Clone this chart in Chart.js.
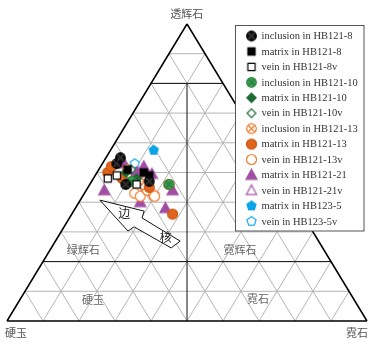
<!DOCTYPE html>
<html>
<head>
<meta charset="utf-8">
<script src="https://cdn.jsdelivr.net/npm/chart.js@4.4.1/dist/chart.umd.min.js"></script>
<style>
  body { margin: 0; background: #fff; }
  canvas { display: block; }
</style>
</head>
<body>
<canvas id="ternary" width="392" height="347"></canvas>
<script>
// compositions as [Quad, Jd, Ae] in %
const seriesLabels = [
  "inclusion in HB121-8", "matrix in HB121-8", "vein in HB121-8v",
  "inclusion in HB121-10", "matrix in HB121-10", "vein in HB121-10v",
  "inclusion in HB121-13", "matrix in HB121-13", "vein in HB121-13v",
  "matrix in HB121-21", "vein in HB121-21v", "matrix in HB123-5", "vein in HB123-5v"
];
const inclusion8 = [[53, 43, 4], [55, 41, 4], [47, 37, 16], [46, 44, 10]];
const matrix8 = [[50, 37, 13], [49, 36, 15], [51, 41, 8]];
const vein8 = [[48, 48, 4], [49, 45, 6], [46, 41, 13]];
const inclusion10 = [[46, 32, 22], [47, 42, 11]];
const matrix10 = [[50, 42, 8], [48, 40, 12]];
const vein10 = [[51, 40, 9]];
const inclusion13 = [[51, 41, 8], [47, 40, 13]];
const matrix13 = [[50, 47, 3], [52, 45, 3], [48, 44, 8], [46, 32, 22], [36, 36, 28], [45, 38, 17]];
const vein13 = [[43, 43, 14], [42, 42, 16], [44, 39, 17], [42.5, 38, 19.5], [42, 38, 20], [46, 39, 15]];
const matrix21 = [[44, 51, 5], [53, 41, 6], [52, 36, 12], [49.5, 35, 15.5], [44, 32, 24], [40, 43, 17], [38, 37, 25], [50, 39, 11]];
const vein21 = [[50, 38.5, 11.5], [48, 41, 11], [45, 39, 16]];
const matrix1235 = [[57.5, 30.5, 12]];
const vein1235 = [[53, 38, 9], [46, 44, 10]];

const cornerLabels = ["透辉石", "硬玉", "霓石"];
const fieldLabels = ["绿辉石", "霓辉石", "硬玉", "霓石"];

// ternary -> cartesian (base 0..1, apex at y=1)
function toXY(q, jd, ae) {
  const s = q + jd + ae;
  return { x: ae / s + q / s / 2, y: q / s };
}

function marker(shape, fill, stroke, r, cross) {
  const s = Math.ceil(r * 2 + 3);
  const c = document.createElement('canvas');
  c.width = s; c.height = s;
  const g = c.getContext('2d');
  const m = s / 2;
  g.lineWidth = 1.2;
  g.fillStyle = fill || '#fff';
  g.strokeStyle = stroke;
  g.beginPath();
  if (shape === 'circle') {
    g.arc(m, m, r, 0, Math.PI * 2);
  } else if (shape === 'square') {
    g.rect(m - r * 0.82, m - r * 0.82, r * 1.64, r * 1.64);
  } else if (shape === 'diamond') {
    g.moveTo(m, m - r); g.lineTo(m + r, m); g.lineTo(m, m + r); g.lineTo(m - r, m); g.closePath();
  } else if (shape === 'triangle') {
    g.moveTo(m, m - r); g.lineTo(m + r * 0.95, m + r * 0.75); g.lineTo(m - r * 0.95, m + r * 0.75); g.closePath();
  } else if (shape === 'pentagon') {
    for (let i = 0; i < 5; i++) {
      const a = -Math.PI / 2 + i * 2 * Math.PI / 5;
      const px = m + r * Math.cos(a), py = m + r * Math.sin(a);
      if (i === 0) g.moveTo(px, py); else g.lineTo(px, py);
    }
    g.closePath();
  }
  g.fill();
  g.stroke();
  if (cross) {
    g.strokeStyle = cross;
    g.beginPath();
    const d = r * 0.68;
    g.moveTo(m - d, m - d); g.lineTo(m + d, m + d);
    g.moveTo(m + d, m - d); g.lineTo(m - d, m + d);
    g.stroke();
  }
  return c;
}

const markers = [
  marker('circle', '#111', '#000', 4.8, '#3a3a3a'),
  marker('square', '#000', '#000', 4.4),
  marker('square', '#fff', '#000', 4.4),
  marker('circle', '#3a9c50', '#2f8a44', 4.8, '#26803c'),
  marker('diamond', '#1f6b35', '#1f6b35', 4.7),
  marker('diamond', '#fff', '#1f6b35', 4.4),
  marker('circle', '#fff', '#f07c28', 4.8, '#f07c28'),
  marker('circle', '#e0651e', '#cc5816', 5.0),
  marker('circle', '#fff', '#f07c28', 5.0),
  marker('triangle', '#a24da4', '#a24da4', 5.8),
  marker('triangle', '#fff', '#aa55ac', 5.4),
  marker('pentagon', '#0aa5e6', '#0aa5e6', 4.8),
  marker('pentagon', '#fff', '#1aaaee', 4.8)
];
const seriesData = [inclusion8, matrix8, vein8, inclusion10, matrix10, vein10,
  inclusion13, matrix13, vein13, matrix21, vein21, matrix1235, vein1235];

const px = (chart, x, y) => ({ x: chart.scales.x.getPixelForValue(x), y: chart.scales.y.getPixelForValue(y) });

function segment(ctx, chart, a, b) {
  const p1 = toXY(...a), p2 = toXY(...b);
  const s = px(chart, p1.x, p1.y), e = px(chart, p2.x, p2.y);
  ctx.moveTo(s.x, s.y);
  ctx.lineTo(e.x, e.y);
}

const ternaryPlugin = {
  id: 'ternaryPlugin',
  beforeDatasetsDraw(chart) {
    const ctx = chart.ctx;
    ctx.save();
    // grey 10% grid
    ctx.strokeStyle = '#b4b4b4';
    ctx.lineWidth = 1;
    ctx.beginPath();
    for (let i = 1; i < 10; i++) {
      const t = i / 10;
      segment(ctx, chart, [t, 1 - t, 0], [t, 0, 1 - t]);
      segment(ctx, chart, [1 - t, t, 0], [0, t, 1 - t]);
      segment(ctx, chart, [1 - t, 0, t], [0, 1 - t, t]);
    }
    ctx.stroke();
    // classification lines
    ctx.strokeStyle = '#111';
    ctx.beginPath();
    segment(ctx, chart, [0.8, 0.2, 0], [0.8, 0, 0.2]);
    segment(ctx, chart, [0.2, 0.8, 0], [0.2, 0, 0.8]);
    segment(ctx, chart, [0.8, 0.1, 0.1], [0, 0.5, 0.5]);
    ctx.stroke();
    // outline
    ctx.lineWidth = 1.5;
    ctx.strokeStyle = '#000';
    ctx.beginPath();
    segment(ctx, chart, [1, 0, 0], [0, 1, 0]);
    segment(ctx, chart, [0, 1, 0], [0, 0, 1]);
    segment(ctx, chart, [0, 0, 1], [1, 0, 0]);
    ctx.stroke();

    // arrow 边 -> 核 (data coords)
    const arrow = [[0.258, 0.407], [0.381, 0.370], [0.375, 0.347], [0.481, 0.269],
                   [0.456, 0.246], [0.353, 0.317], [0.336, 0.303]];
    ctx.beginPath();
    arrow.forEach((a, i) => {
      const p = px(chart, a[0], a[1]);
      if (i === 0) ctx.moveTo(p.x, p.y); else ctx.lineTo(p.x, p.y);
    });
    ctx.closePath();
    ctx.fillStyle = '#fff';
    ctx.fill();
    ctx.lineWidth = 1;
    ctx.strokeStyle = '#111';
    ctx.stroke();

    // labels
    ctx.textAlign = 'center';
    ctx.textBaseline = 'middle';
    ctx.font = '11px "Noto Sans CJK SC"';
    ctx.fillStyle = '#555';
    const corner = [[0.499, 1.034], [0.025, -0.040], [0.972, -0.040]];
    corner.forEach((c, i) => { const p = px(chart, c[0], c[1]); ctx.fillText(cornerLabels[i], p.x, p.y); });
    ctx.fillStyle = '#666';
    const field = [[0.212, 0.241], [0.647, 0.241], [0.239, 0.071], [0.697, 0.075]];
    field.forEach((c, i) => { const p = px(chart, c[0], c[1]); ctx.fillText(fieldLabels[i], p.x, p.y); });
    ctx.fillStyle = '#222';
    ctx.font = '12px "Noto Sans CJK SC"';
    let p = px(chart, 0.326, 0.363); ctx.fillText('边', p.x, p.y);
    p = px(chart, 0.441, 0.282); ctx.fillText('核', p.x, p.y);
    ctx.restore();
  },
  afterDatasetsDraw(chart) {
    const ctx = chart.ctx;
    ctx.save();
    ctx.fillStyle = '#fff';
    ctx.fillRect(235.5, 25.5, 128.5, 205.5);
    ctx.strokeStyle = '#555';
    ctx.lineWidth = 1;
    ctx.strokeRect(235.5, 25.5, 128.5, 205.5);
    ctx.font = '10.5px "Liberation Serif"';
    ctx.textBaseline = 'middle';
    ctx.fillStyle = '#333';
    seriesLabels.forEach((lab, i) => {
      const y = 36 + i * 15.44;
      const m = markers[i];
      ctx.drawImage(m, 251.5 - m.width / 2, y - m.height / 2);
      ctx.fillText(lab, 261.5, y + 0.5);
    });
    ctx.restore();
  }
};

new Chart("ternary", {
  type: "scatter",
  data: {
    datasets: seriesData.map((pts, i) => ({
      label: seriesLabels[i],
      data: pts.map(p => toXY(p[0], p[1], p[2])),
      pointStyle: markers[i],
      pointRadius: 5,
      showLine: false
    }))
  },
  options: {
    responsive: false,
    animation: false,
    events: [],
    layout: { padding: { left: 7, right: 25, top: 24, bottom: 26 } },
    scales: {
      x: { type: 'linear', min: 0, max: 1, display: false },
      y: { type: 'linear', min: 0, max: 1, display: false }
    },
    plugins: {
      legend: { display: false },
      tooltip: { enabled: false }
    }
  },
  plugins: [ternaryPlugin]
});
</script>
</body>
</html>
